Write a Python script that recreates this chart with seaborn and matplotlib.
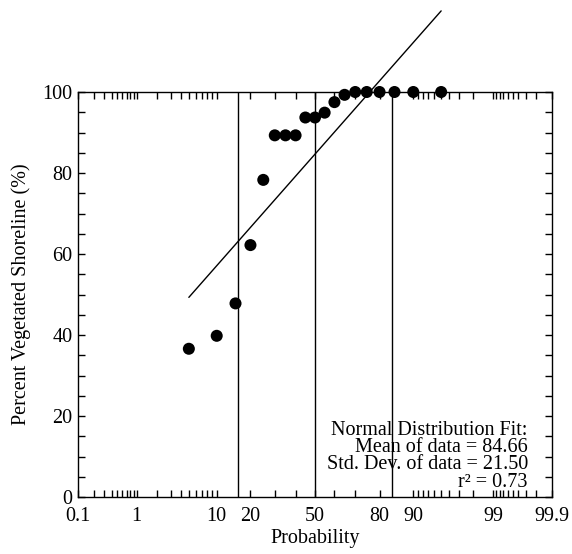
import numpy as np
import pandas as pd
import matplotlib
matplotlib.use('Agg')
import matplotlib.pyplot as plt
import seaborn as sns
from statistics import NormalDist

# data
prob = [5, 10, 15, 20, 25, 30, 35, 40, 45, 50, 55, 60, 65, 70, 75, 80, 85, 90, 95]
veg = [36.6, 39.8, 47.8, 62.2, 78.3, 89.3, 89.3, 89.3, 93.7, 93.7, 94.9, 97.5, 99.3,
       100, 100, 100, 100, 100, 100]
fit_mean = 84.66
fit_std = 21.50
fit_r2 = 0.73
fit_span = [5, 95]

major_ticks = [0.1, 1, 10, 20, 50, 80, 90, 99, 99.9]
major_labels = ['0.1', '1', '10', '20', '50', '80', '90', '99', '99.9']
minor_ticks = [0.2, 0.3, 0.4, 0.5, 0.6, 0.7, 0.8, 0.9,
               2, 3, 4, 5, 6, 7, 8, 9, 30, 40, 60, 70,
               91, 92, 93, 94, 95, 96, 97, 98,
               99.1, 99.2, 99.3, 99.4, 99.5, 99.6, 99.7, 99.8]

nd = NormalDist()
_ppf = np.vectorize(nd.inv_cdf, otypes=[float])
_cdf = np.vectorize(nd.cdf, otypes=[float])


def fwd(p):
    p = np.clip(np.asarray(p, dtype=float) / 100.0, 1e-9, 1 - 1e-9)
    return _ppf(p)


def inv(z):
    return _cdf(np.asarray(z, dtype=float)) * 100.0


sns.set_style('ticks')
plt.rcParams['font.family'] = ['Liberation Serif', 'DejaVu Serif']
plt.rcParams['font.size'] = 14.5
for k in ['text.color', 'axes.labelcolor', 'xtick.color', 'ytick.color', 'axes.edgecolor']:
    plt.rcParams[k] = 'black'

df = pd.DataFrame({'prob': prob, 'veg': veg})

fig = plt.figure(figsize=(5.72, 5.54), dpi=100)
ax = fig.add_axes([78 / 572, 1 - 497 / 554, (552 - 78) / 572, (497 - 92) / 554])
ax.set_xscale('function', functions=(fwd, inv))

# mean-1sd, mean, mean+1sd probability lines
for z in [-1, 0, 1]:
    ax.axvline(nd.cdf(z) * 100, color='black', lw=1.0, zorder=1)

# fitted normal line
fit_x = np.array(fit_span, dtype=float)
fit_y = fit_mean + fit_std * fwd(fit_x)
ax.plot(fit_x, fit_y, color='black', lw=1.0, zorder=2, clip_on=False)

sns.scatterplot(data=df, x='prob', y='veg', ax=ax, color='black', s=75,
                edgecolor='none', zorder=3, clip_on=False)

ax.set_xlim(0.1, 99.9)
ax.set_ylim(0, 100)
ax.set_xticks(major_ticks)
ax.set_xticklabels(major_labels)
ax.set_xticks(minor_ticks, minor=True)
ax.set_xticklabels([], minor=True)
ax.set_yticks([0, 20, 40, 60, 80, 100])
ax.set_yticks(np.arange(0, 101, 5), minor=True)

ax.tick_params(which='both', direction='in', length=5, width=1,
               top=True, right=True, color='black', labelcolor='black')
ax.tick_params(axis='x', which='major', pad=7)
ax.tick_params(axis='y', which='major', pad=4)
for s in ax.spines.values():
    s.set_linewidth(1.0)
    s.set_color('black')

ax.set_xlabel('Probability')
ax.set_ylabel('Percent Vegetated Shoreline (%)')
ax.xaxis.set_label_coords(0.5, -0.08)
ax.yaxis.set_label_coords(-0.1, 0.5)

lines = ['Normal Distribution Fit:',
         'Mean of data = %.2f' % fit_mean,
         'Std. Dev. of data = %.2f' % fit_std,
         'r\u00b2 = %.2f' % fit_r2]
ys = [0.165, 0.121, 0.080, 0.036]
for t, yy in zip(lines, ys):
    ax.text(0.949, yy, t, transform=ax.transAxes, ha='right', va='center',
            fontsize=14.5, zorder=4)

fig.savefig('out.png', dpi=100)
